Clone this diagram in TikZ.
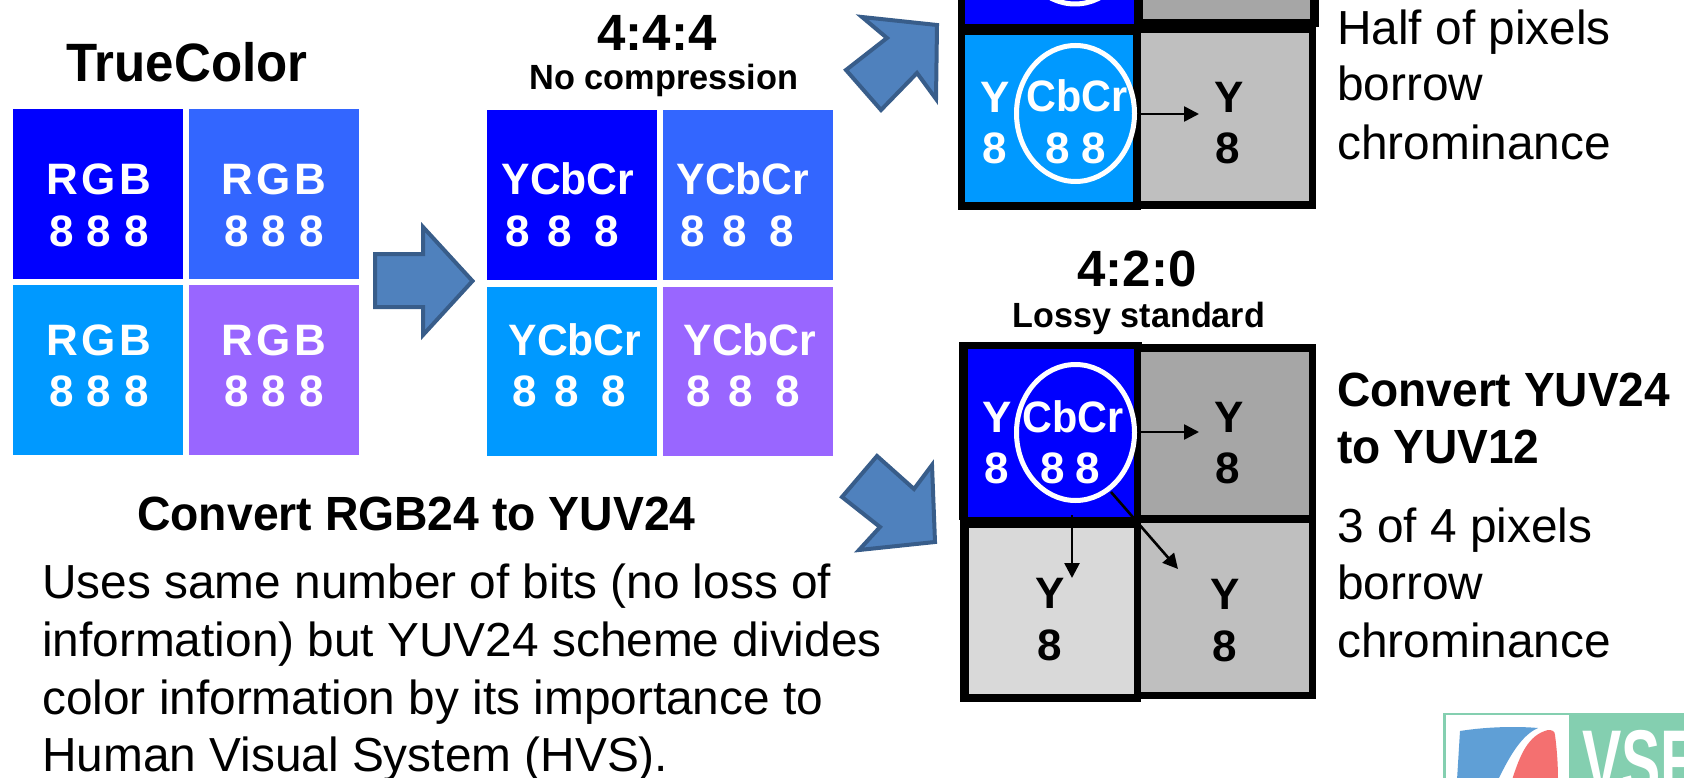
\documentclass[tikz,border=0pt]{standalone}
\usepackage{fontspec}
\setmainfont{Liberation Sans}
\usetikzlibrary{arrows.meta}
\definecolor{cA}{HTML}{0000FF}
\definecolor{cB}{HTML}{3366FF}
\definecolor{cC}{HTML}{0099FF}
\definecolor{cD}{HTML}{9966FF}
\definecolor{gA}{HTML}{A6A6A6}
\definecolor{gB}{HTML}{D9D9D9}
\definecolor{gC}{HTML}{BFBFBF}
\definecolor{arF}{HTML}{4F81BD}
\definecolor{arS}{HTML}{385D8A}
\definecolor{logoG}{HTML}{84CFB0}
\definecolor{logoB}{HTML}{5F9FD6}
\definecolor{logoR}{HTML}{F47070}
\newcommand{\fs}[1]{\fontsize{#1pt}{#1pt}\selectfont}
\newcommand{\sq}[2]{\scalebox{#1}[1]{#2}}
\tikzset{
  x=1pt,y=-1pt,
  wht/.style={text=white,font=\fs{44}\bfseries,inner sep=0pt,anchor=base},
  blk/.style={text=black,font=\fs{44}\bfseries,inner sep=0pt,anchor=base},
  ttl/.style={text=black,inner sep=0pt,anchor=base},
  body/.style={text=black,font=\fs{47.8},inner sep=0pt,anchor=base west},
  bold/.style={text=black,font=\fs{48}\bfseries,inner sep=0pt,anchor=base west},
  blockarrow/.style={fill=arF,draw=arS,line width=4pt,miter limit=10},
  thinarrow/.style={draw=black,line width=2.6pt,-{Triangle[length=15pt,width=15pt]}},
  ring/.style={draw=white,line width=5pt}
}
\begin{document}
\begin{tikzpicture}
\useasboundingbox (0,0) rectangle (1684,778);
% TrueColor cells
\fill[cA] (13,109) rectangle (183,279);
\fill[cB] (189,109) rectangle (359,279);
\fill[cC] (13,285) rectangle (183,455);
\fill[cD] (189,285) rectangle (359,455);
\foreach \cx/\by in {99/195,274/195,99/355,274/355}{\node[wht] at (\cx,\by) {R\kern3.5pt G\kern3.5pt B};}
\foreach \cx/\by in {99/247,274/247,99/406,274/406}{\node[wht] at (\cx,\by) {8\kern1pt\ 8\kern1pt\ 8};}
% 4:4:4 cells
\fill[cA] (487,110) rectangle (657,280);
\fill[cB] (663,110) rectangle (833,280);
\fill[cC] (487,287) rectangle (657,456);
\fill[cD] (663,287) rectangle (833,456);
\node[wht] at (568,195) {\sq{.97}{YCbCr}};
\node[wht] at (743,195) {\sq{.97}{YCbCr}};
\node[wht] at (575,355) {\sq{.97}{YCbCr}};
\node[wht] at (750,355) {\sq{.97}{YCbCr}};
\node[wht] at (562,247) {8\kern18pt8\kern22pt8};
\node[wht] at (737,247) {8\kern18pt8\kern22pt8};
\node[wht] at (569,406) {8\kern18pt8\kern22pt8};
\node[wht] at (743,406) {8\kern18pt8\kern22pt8};
% titles
\node[ttl,font=\fs{54}\bfseries] at (187,82) {\sq{.945}{TrueColor}};
\node[ttl,font=\fs{51}\bfseries] at (657,51) {4:4:4};
\node[ttl,font=\fs{35}\bfseries] at (664,90) {\sq{.98}{No compression}};
\node[ttl,font=\fs{51}\bfseries] at (1137,286) {4:2:0};
\node[ttl,font=\fs{35}\bfseries] at (1139,327) {\sq{.975}{Lossy standard}};
% block arrows
\draw[blockarrow] (375,254) -- (423,254) -- (423,227) -- (472.5,281) -- (423,335) -- (423,307) -- (375,307) -- cycle;
\draw[blockarrow] (862,17) -- (937,25) -- (936,99) -- (917,73) -- (881,110) -- (846,70) -- (887,38) -- cycle;
\draw[blockarrow] (877,456) -- (914,489) -- (932,465) -- (935,542) -- (859,550) -- (880,527) -- (842,497) -- cycle;
% top group 4:2:2
\fill[black] (958,-5) rectangle (1141,210);
\fill[black] (1141,-5) rectangle (1319,27);
\fill[black] (1141,27) rectangle (1316,209);
\fill[cA] (965,-5) rectangle (1134,24);
\fill[gA] (1143,-5) rectangle (1310,19);
\fill[cC] (965,35) rectangle (1133,202);
\fill[gC] (1141,33) rectangle (1309,201);
\draw[ring] (1075,-64) ellipse (59 and 68);
\draw[ring] (1075.5,113.5) ellipse (59 and 68);
\node[wht] at (995,113) {Y};
\node[wht] at (995,164) {8};
\node[wht] at (1077,112) {\sq{.94}{CbCr}};
\node[wht] at (1058,164) {8};
\node[wht] at (1094,164) {8};
\node[blk] at (1229,113) {Y};
\node[blk] at (1228,164) {8};
\coordinate (ta) at (1141,114);
\coordinate (tb) at (1199,114);
\draw[thinarrow] (ta) -- (tb);
% bottom group 4:2:0
\fill[black] (959,342) rectangle (1142,520);
\fill[black] (1142,344) rectangle (1316,520);
\fill[black] (960,520) rectangle (1141,702);
\fill[black] (1141,520) rectangle (1316,699);
\fill[cA] (968,349) rectangle (1134,517);
\fill[gA] (1141,352) rectangle (1309,515);
\fill[gB] (969,528) rectangle (1134,694);
\fill[gC] (1141,523) rectangle (1309,692);
\draw[ring] (1075.5,432.5) ellipse (59 and 68);
\node[wht] at (997,432) {Y};
\node[wht] at (997,483) {8};
\node[wht] at (1073,432) {\sq{.94}{CbCr}};
\node[wht] at (1053,483) {8};
\node[wht] at (1088,483) {8};
\node[blk] at (1229,432) {Y};
\node[blk] at (1228,483) {8};
\node[blk] at (1050,608) {Y};
\node[blk] at (1050,660) {8};
\node[blk] at (1225,609) {Y};
\node[blk] at (1225,661) {8};
\coordinate (ba) at (1141,432);
\coordinate (bb) at (1199,432);
\coordinate (bc) at (1072,515);
\coordinate (bd) at (1072,578);
\coordinate (be) at (1111,492);
\coordinate (bf) at (1178,569);
\draw[thinarrow] (ba) -- (bb);
\draw[thinarrow] (bc) -- (bd);
\draw[thinarrow] (be) -- (bf);
% right text
\node[body] at (1337,45) {Half of pixels};
\node[body] at (1337,101) {borrow};
\node[body] at (1337,160) {chrominance};
\node[bold] at (1337,406) {\sq{.96}{Convert YUV24}};
\node[bold] at (1337,463) {\sq{.96}{to YUV12}};
\node[body] at (1337,542) {3 of 4 pixels};
\node[body] at (1337,599) {borrow};
\node[body] at (1337,657) {chrominance};
% left text
\node[bold] at (137,530) {\sq{.965}{Convert RGB24 to YUV24}};
\node[body] at (42,598) {Uses same number of bits (no loss of};
\node[body] at (42,656) {information) but YUV24 scheme divides};
\node[body] at (42,714) {color information by its importance to};
\node[body] at (42,771) {Human Visual System (HVS).};
% logo
\fill[logoG] (1443,713) rectangle (1690,790);
\fill[white] (1446,715) rectangle (1569,790);
\fill[logoB] (1460,731) .. controls (1485,727) and (1515,726) .. (1538,728) .. controls (1522,735) and (1510,755) .. (1498,780) -- (1457,780) -- cycle;
\fill[logoR] (1548,730) .. controls (1552,730) and (1555,731) .. (1555,735) .. controls (1557,750) and (1558,765) .. (1558,780) -- (1512,780) .. controls (1520,755) and (1528,735) .. (1548,730) -- cycle;
\node[text=white,font=\fs{92}\bfseries,inner sep=0pt,anchor=base west] at (1582,794) {\sq{.64}{VSE}};
\end{tikzpicture}
\end{document}
